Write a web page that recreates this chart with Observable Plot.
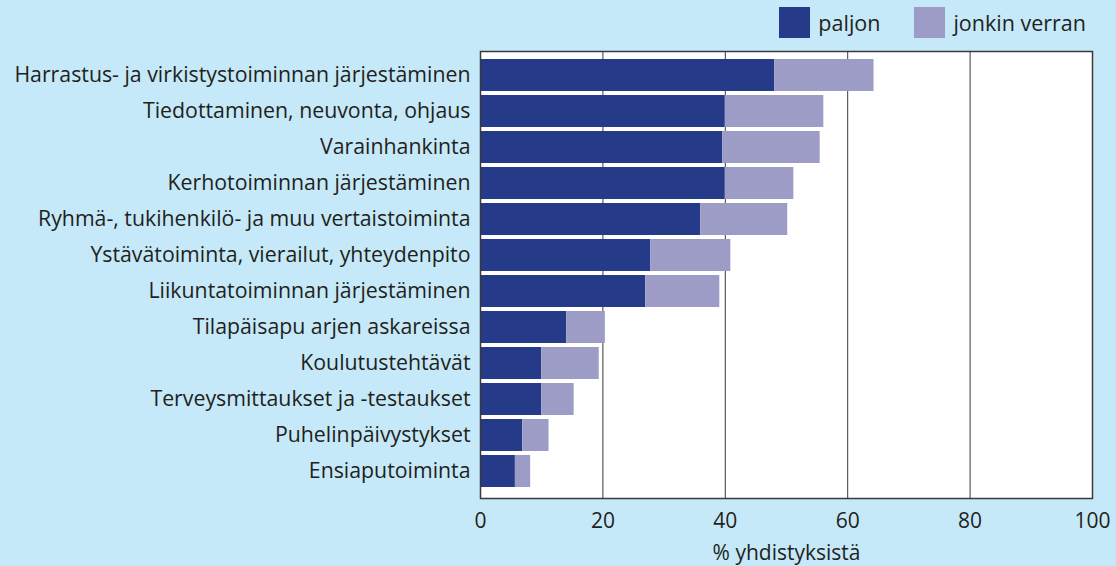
<!DOCTYPE html>
<html>
<head>
<meta charset="utf-8">
<script src="https://cdn.jsdelivr.net/npm/d3@7"></script>
<script src="https://cdn.jsdelivr.net/npm/@observablehq/plot@0.6"></script>
<style>
  html, body { margin: 0; padding: 0; background: #c5e9f8; }
  #wrap { position: relative; width: 1116px; height: 566px; background: #c5e9f8; overflow: hidden; font-family: "Open Sans", sans-serif; color: #231f20; }
  #legend { position: absolute; top: 7px; right: 30px; display: flex; align-items: center; font-size: 21.5px; }
  #legend .item { display: flex; align-items: center; margin-left: 34px; }
  #legend .sw { width: 31px; height: 31px; margin-right: 8px; }
  #chart { position: absolute; left: 0; top: 0; }
</style>
</head>
<body>
<div id="wrap">
  <div id="chart"></div>
  <div id="legend"></div>
</div>
<script>
const categories = [
  "Harrastus- ja virkistystoiminnan järjestäminen",
  "Tiedottaminen, neuvonta, ohjaus",
  "Varainhankinta",
  "Kerhotoiminnan järjestäminen",
  "Ryhmä-, tukihenkilö- ja muu vertaistoiminta",
  "Ystävätoiminta, vierailut, yhteydenpito",
  "Liikuntatoiminnan järjestäminen",
  "Tilapäisapu arjen askareissa",
  "Koulutustehtävät",
  "Terveysmittaukset ja -testaukset",
  "Puhelinpäivystykset",
  "Ensiaputoiminta"
];
const paljon = [48.1, 40.0, 39.6, 40.0, 36.0, 27.8, 27.0, 14.1, 10.0, 10.0, 6.9, 5.7];
const jonkinVerran = [16.2, 16.1, 15.9, 11.2, 14.2, 13.1, 12.1, 6.3, 9.4, 5.3, 4.3, 2.5];
const seriesNames = ["paljon", "jonkin verran"];
const seriesColors = ["#263a8a", "#9c9cc6"];
const xTicks = [0, 20, 40, 60, 80, 100];
const gridTicks = [20, 40, 60, 80];
const xLabel = "% yhdistyksistä";

const data = categories.flatMap((c, i) => [
  {cat: c, series: seriesNames[0], value: paljon[i]},
  {cat: c, series: seriesNames[1], value: jonkinVerran[i]}
]);

const chart = Plot.plot({
  width: 1116,
  height: 566,
  marginTop: 51,
  marginBottom: 68,
  marginLeft: 480,
  marginRight: 24,
  style: {background: "transparent", fontFamily: "'Open Sans', sans-serif", fontSize: "21px", color: "#231f20"},
  x: {domain: [0, 100]},
  y: {domain: categories, paddingInner: 0.1156, paddingOuter: 0.235, align: 0.41},
  color: {domain: seriesNames, range: seriesColors},
  marks: [
    Plot.frame({fill: "white", stroke: "none"}),
    Plot.ruleX(gridTicks, {stroke: "#3a3a3a", strokeWidth: 1}),
    Plot.barX(data, Plot.stackX({y: "cat", x: "value", fill: "series", order: seriesNames})),
    Plot.frame({stroke: "#3a3a3a", strokeWidth: 1.5}),
    Plot.axisY({tickSize: 0, tickPadding: 10, label: null, fontSize: 21.3}),
    Plot.axisX({ticks: xTicks, tickSize: 0, tickPadding: 15, fontSize: 21, label: xLabel, labelAnchor: "center", labelArrow: "none", labelOffset: 61})
  ]
});
document.getElementById("chart").appendChild(chart);

const legend = document.getElementById("legend");
seriesNames.forEach((name, i) => {
  const item = document.createElement("div");
  item.className = "item";
  const sw = document.createElement("div");
  sw.className = "sw";
  sw.style.background = seriesColors[i];
  const t = document.createElement("span");
  t.textContent = name;
  item.appendChild(sw);
  item.appendChild(t);
  legend.appendChild(item);
});
</script>
</body>
</html>
